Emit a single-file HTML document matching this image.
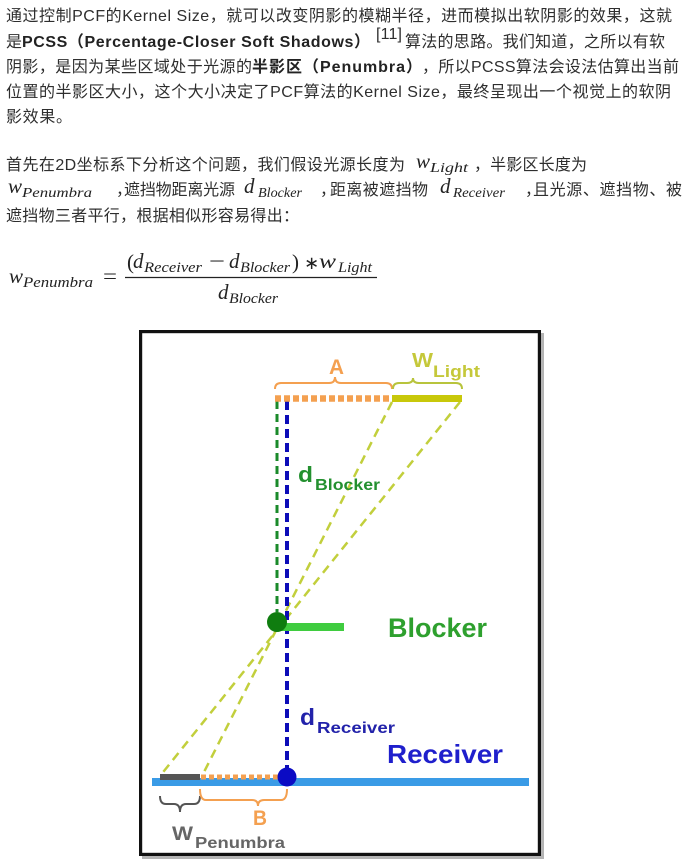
<!DOCTYPE html>
<html><head><meta charset="utf-8">
<style>
html,body{margin:0;padding:0;background:#fff;}
svg{display:block;}
.t{font-family:"Liberation Sans","Noto Sans CJK SC",sans-serif;font-size:16px;fill:#2e2e2e;}
.b{font-weight:bold;fill:#222;}
.m{font-family:"Liberation Serif",serif;font-style:italic;fill:#222;}
.r{font-family:"Liberation Serif",serif;fill:#222;}
.d{font-family:"Liberation Sans",sans-serif;font-weight:bold;}
</style></head><body>
<svg width="688" height="866" viewBox="0 0 688 866" xmlns="http://www.w3.org/2000/svg">
<rect width="688" height="866" fill="#fff"/>

<!-- Paragraph 1 -->
<text class="t" x="6" y="21" textLength="666" lengthAdjust="spacing">通过控制PCF的Kernel Size，就可以改变阴影的模糊半径，进而模拟出软阴影的效果，这就</text>
<text class="t" x="6" y="47">是</text>
<text class="t b" x="22" y="47" textLength="348" lengthAdjust="spacing">PCSS（Percentage-Closer Soft Shadows）</text>
<text class="t" x="376" y="39" font-size="12" textLength="26" lengthAdjust="spacing">[11]</text>
<text class="t" x="405" y="47" textLength="260" lengthAdjust="spacing">算法的思路。我们知道，之所以有软</text>
<text class="t" x="6" y="72" textLength="246" lengthAdjust="spacing">阴影，是因为某些区域处于光源的</text>
<text class="t b" x="252" y="72" textLength="170" lengthAdjust="spacing">半影区（Penumbra）</text>
<text class="t" x="422" y="72" textLength="257" lengthAdjust="spacing">，所以PCSS算法会设法估算出当前</text>
<text class="t" x="6" y="97" textLength="665" lengthAdjust="spacing">位置的半影区大小，这个大小决定了PCF算法的Kernel Size，最终呈现出一个视觉上的软阴</text>
<text class="t" x="6" y="122" textLength="66" lengthAdjust="spacing">影效果。</text>

<!-- Paragraph 2 -->
<text class="t" x="6" y="170" textLength="399" lengthAdjust="spacing">首先在2D坐标系下分析这个问题，我们假设光源长度为</text>
<text class="m" x="416" y="168" font-size="21">w</text>
<text class="m" x="430" y="172" font-size="14" textLength="38" lengthAdjust="spacingAndGlyphs">Light</text>
<text class="t" x="474" y="170" textLength="113" lengthAdjust="spacing">，半影区长度为</text>

<text class="m" x="8" y="193" font-size="21">w</text>
<text class="m" x="22" y="197" font-size="14" textLength="70" lengthAdjust="spacingAndGlyphs">Penumbra</text>
<text class="t" x="116" y="195">，</text>
<text class="t" x="124" y="195" textLength="111" lengthAdjust="spacing">遮挡物距离光源</text>
<text class="m" x="244" y="193" font-size="21">d</text>
<text class="m" x="258" y="197" font-size="14" textLength="44" lengthAdjust="spacingAndGlyphs">Blocker</text>
<text class="t" x="320" y="195">，</text>
<text class="t" x="330" y="195" textLength="98" lengthAdjust="spacing">距离被遮挡物</text>
<text class="m" x="440" y="193" font-size="21">d</text>
<text class="m" x="453" y="197" font-size="14" textLength="52" lengthAdjust="spacingAndGlyphs">Receiver</text>
<text class="t" x="525" y="195">，</text>
<text class="t" x="533" y="195" textLength="149" lengthAdjust="spacing">且光源、遮挡物、被</text>
<text class="t" x="6" y="221" textLength="293" lengthAdjust="spacing">遮挡物三者平行，根据相似形容易得出：</text>

<!-- Formula -->
<text class="m" x="9" y="283" font-size="21">w</text>
<text class="m" x="23" y="287" font-size="15" textLength="70" lengthAdjust="spacingAndGlyphs">Penumbra</text>
<text class="r" x="103" y="283" font-size="21" textLength="14" lengthAdjust="spacingAndGlyphs">=</text>
<line x1="125" y1="277.5" x2="377" y2="277.5" stroke="#222" stroke-width="1.2"/>
<text class="r" x="127" y="269" font-size="21">(</text>
<text class="m" x="133" y="268" font-size="21">d</text>
<text class="m" x="144" y="272" font-size="15" textLength="58" lengthAdjust="spacingAndGlyphs">Receiver</text>
<text class="r" x="209" y="268" font-size="21" textLength="16" lengthAdjust="spacingAndGlyphs">−</text>
<text class="m" x="229" y="268" font-size="21">d</text>
<text class="m" x="240" y="272" font-size="15" textLength="50" lengthAdjust="spacingAndGlyphs">Blocker</text>
<text class="r" x="292" y="269" font-size="21">)</text>
<text x="304" y="269" font-size="18" style="font-family:'DejaVu Sans',sans-serif;fill:#222">∗</text>
<text class="m" x="319" y="268" font-size="21" textLength="17" lengthAdjust="spacingAndGlyphs">w</text>
<text class="m" x="338" y="272" font-size="15" textLength="34" lengthAdjust="spacingAndGlyphs">Light</text>
<text class="m" x="218" y="299" font-size="21">d</text>
<text class="m" x="229" y="303" font-size="15" textLength="49" lengthAdjust="spacingAndGlyphs">Blocker</text>

<!-- Diagram frame -->
<rect x="143.5" y="334.5" width="399" height="523" fill="none" stroke="#b4b4b4" stroke-width="3"/>
<rect x="140.6" y="331.6" width="398.8" height="522.8" fill="#fff" stroke="#111" stroke-width="3.2"/>

<!-- Braces top -->
<path d="M275,389 Q275,383 281,383 L329,383 Q335,383 335,377 Q335,383 341,383 L386,383 Q392,383 392,389" fill="none" stroke="#f4a050" stroke-width="2"/>
<path d="M393,389 Q393,383 399,383 L407,383 Q413,383 413,378 Q413,383 419,383 L456,383 Q462,383 462,389" fill="none" stroke="#b8c43c" stroke-width="2"/>
<text class="d" x="329" y="374" font-size="21" fill="#f4a050" textLength="15" lengthAdjust="spacingAndGlyphs">A</text>
<text class="d" x="412" y="367" font-size="20" fill="#c5c83a" textLength="21" lengthAdjust="spacingAndGlyphs">W</text>
<text class="d" x="433" y="377" font-size="17" fill="#c5c83a" textLength="47" lengthAdjust="spacingAndGlyphs">Light</text>

<!-- diagonals -->
<line x1="392" y1="402" x2="202" y2="776" stroke="#c2cf3c" stroke-width="2.5" stroke-dasharray="9 6"/>
<line x1="460" y1="402" x2="160" y2="776" stroke="#c2cf3c" stroke-width="2.5" stroke-dasharray="9 6"/>

<!-- vertical dashed -->
<line x1="277" y1="401" x2="277" y2="612" stroke="#1a8a2a" stroke-width="3" stroke-dasharray="8 5"/>
<line x1="287" y1="401" x2="287" y2="770" stroke="#0c0cb8" stroke-width="4" stroke-dasharray="9 5"/>

<!-- top light line -->
<line x1="275" y1="398.5" x2="390" y2="398.5" stroke="#f4a050" stroke-width="6.5" stroke-dasharray="6 3"/>
<rect x="392" y="395" width="70" height="7" fill="#c8c80a"/>

<!-- d_Blocker -->
<text class="d" x="298" y="482" font-size="22" fill="#23902f" textLength="15" lengthAdjust="spacingAndGlyphs">d</text>
<text class="d" x="315" y="490" font-size="16" fill="#23902f" textLength="65" lengthAdjust="spacingAndGlyphs">Blocker</text>

<!-- Blocker -->
<rect x="277" y="623" width="67" height="8" fill="#3fcc3f"/>
<circle cx="277" cy="622" r="10" fill="#0f7d0f"/>
<text class="d" x="388" y="637" font-size="27" fill="#2ea02e" textLength="99" lengthAdjust="spacingAndGlyphs">Blocker</text>

<!-- d_Receiver -->
<text class="d" x="300" y="725" font-size="23" fill="#2222aa" textLength="15" lengthAdjust="spacingAndGlyphs">d</text>
<text class="d" x="317" y="733" font-size="16" fill="#2222aa" textLength="78" lengthAdjust="spacingAndGlyphs">Receiver</text>
<text class="d" x="387" y="763" font-size="26" fill="#1f1fcc" textLength="116" lengthAdjust="spacingAndGlyphs">Receiver</text>

<!-- Receiver line -->
<rect x="152" y="778" width="377" height="8" fill="#3a9be6"/>
<rect x="160" y="774" width="40" height="6" fill="#555"/>
<line x1="201" y1="777" x2="283" y2="777" stroke="#f4a050" stroke-width="5" stroke-dasharray="5 3"/>
<circle cx="287" cy="777" r="9.5" fill="#0b0bc4"/>

<!-- Bottom braces -->
<path d="M160,796 Q160,804 166,804 L174,804 Q180,804 180,812 Q180,804 186,804 L194,804 Q200,804 200,796" fill="none" stroke="#555" stroke-width="2"/>
<path d="M200,789 Q200,800 206,800 L252,800 Q258,800 258,806 Q258,800 264,800 L281,800 Q287,800 287,789" fill="none" stroke="#f4a050" stroke-width="2"/>
<text class="d" x="253" y="825" font-size="21" fill="#f4a050" textLength="14" lengthAdjust="spacingAndGlyphs">B</text>
<text class="d" x="172" y="840" font-size="19" fill="#666" textLength="21" lengthAdjust="spacingAndGlyphs">W</text>
<text class="d" x="195" y="848" font-size="16" fill="#666" textLength="90" lengthAdjust="spacingAndGlyphs">Penumbra</text>
</svg>
</body></html>
